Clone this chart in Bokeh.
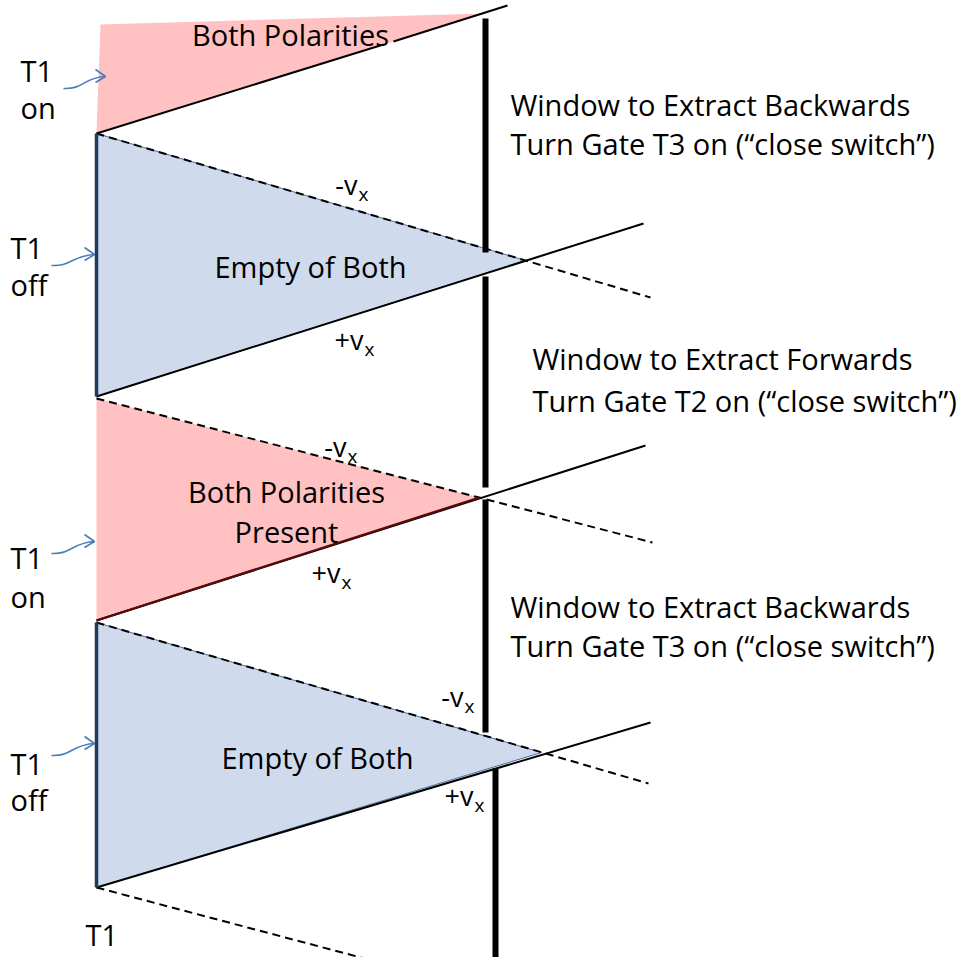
from bokeh.plotting import figure
from bokeh.models import Range1d
from bokeh.embed import file_html
from bokeh.resources import INLINE
from bokeh.core.properties import value

# ---- diagram data (image pixel coordinates, y downward) ----
pink_regions_x = [[100, 485, 96], [96, 96, 479]]
pink_regions_y = [[24, 13, 132], [398, 620, 497]]
blue_regions_x = [[96, 96, 525], [96, 96, 541]]
blue_regions_y = [[133, 396, 260], [622, 887, 752]]

solid_x = [[96, 383], [393, 507], [96, 643], [96, 645], [96, 650]]
solid_y = [[133, 44], [41, 5], [396, 223], [620, 445], [887, 722]]
dashed_x = [[96, 650], [96, 652], [96, 648], [96, 383]]
dashed_y = [[133, 297], [398, 542], [622, 783], [887, 963]]

edge_x = [[96, 96], [96, 96]]
edge_y = [[133, 396], [622, 887]]

gate_x = [[485, 485], [485, 485], [485, 485], [495, 495]]
gate_y = [[18, 252], [276, 487], [499, 732], [768, 965]]

region_labels = ["Both Polarities", "Empty of Both", "Both Polarities", "Present", "Empty of Both"]
region_x = [290, 310, 286, 286, 317]
region_y = [34, 266, 491, 531, 757]

t1_labels = ["T1", "on", "T1", "off", "T1", "on", "T1", "off", "T1"]
t1_x = [20, 20, 10, 10, 10, 10, 10, 10, 85]
t1_y = [70, 107, 247, 284, 557, 596, 763, 799, 934]

v_labels = ["-v", "+v", "-v", "+v", "-v", "+v"]
v_x = [357, 363, 346, 340, 463, 473]
v_y = [184, 339, 446, 572, 696, 795]

window_labels = ["Window to Extract Backwards", "Turn Gate T3 on (\u201cclose switch\u201d)",
                 "Window to Extract Forwards", "Turn Gate T2 on (\u201cclose switch\u201d)",
                 "Window to Extract Backwards", "Turn Gate T3 on (\u201cclose switch\u201d)"]
window_x = [510, 510, 532, 532, 510, 510]
window_y = [104, 143, 358, 400, 606, 645]

arrow_start = [(63, 88), (51, 265), (51, 553), (51, 755)]
arrow_end = [(105, 76), (94, 254), (94, 541), (94, 743)]

FONT = "Open Sans"

W, H = 958, 957
p = figure(width=W, height=H, x_range=Range1d(0, W), y_range=Range1d(H, 0),
           output_backend="svg", toolbar_location=None, min_border=0)
p.axis.visible = False
p.grid.visible = False
p.outline_line_color = None
p.background_fill_color = "white"

p.patches(pink_regions_x, pink_regions_y, fill_color="#ffc1c1", line_color=None)
p.patches(blue_regions_x, blue_regions_y, fill_color="#cfdbed", line_color="#4a6d9a", line_width=1)

p.multi_line(dashed_x, dashed_y, line_color="black", line_width=2, line_dash="8 5")
p.multi_line(solid_x, solid_y, line_color="black", line_width=2)
# dark red edge of the middle pink region
p.line([96, 479], [620, 497], line_color="#5a0a0a", line_width=2.2)
p.multi_line(edge_x, edge_y, line_color="#203a5c", line_width=3.5)
p.multi_line(gate_x, gate_y, line_color="black", line_width=6)

# curved blue arrows
for (sx, sy), (ex, ey) in zip(arrow_start, arrow_end):
    p.bezier(x0=[sx], y0=[sy], x1=[ex], y1=[ey],
             cx0=[sx + 20], cy0=[sy + 1], cx1=[ex - 22], cy1=[ey + 1],
             line_color="#4a7ebb", line_width=1.6)
    p.multi_line([[ex - 10, ex, ex - 10]], [[ey - 7, ey, ey + 6]],
                 line_color="#4a7ebb", line_width=1.6)

p.text(region_x, region_y, text=region_labels, text_font=value(FONT), text_font_size="29px",
       text_align="center", text_baseline="middle", text_color="black")
p.text(t1_x, t1_y, text=t1_labels, text_font=value(FONT), text_font_size="29px",
       text_align="left", text_baseline="middle", text_color="black")
p.text(v_x, v_y, text=v_labels, text_font=value(FONT), text_font_size="27px",
       text_align="right", text_baseline="middle", text_color="black")
p.text([x + 1 for x in v_x], [y + 9 for y in v_y], text=["x"] * len(v_x), text_font=value(FONT),
       text_font_size="19px", text_align="left", text_baseline="middle", text_color="black")
p.text(window_x, window_y, text=window_labels, text_font=value(FONT), text_font_size="29px",
       text_align="left", text_baseline="middle", text_color="black")

open("out.html", "w").write(file_html(p, INLINE))
